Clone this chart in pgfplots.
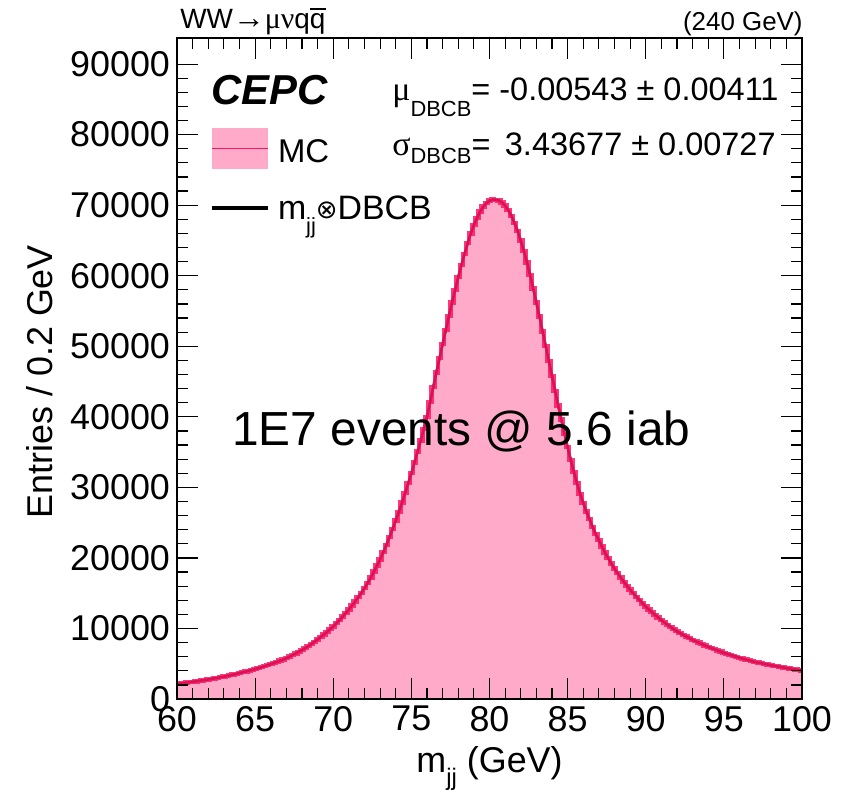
\documentclass[border=0pt]{standalone}
\usepackage{fontspec}
\setmainfont{Liberation Sans}
\newfontfamily\grk{Liberation Serif}
\newfontfamily\dv{DejaVu Sans}
\usepackage{pgfplots}
\usepackage{pgfplotstable}
\pgfplotsset{compat=1.18}
\definecolor{pinkfill}{RGB}{255,170,200}
\definecolor{mcred}{RGB}{255,20,100}
\newcommand\qbar{\setbox0\hbox{q}\rlap{\raisebox{0.66em}{\rule{\wd0}{0.07em}}}q}
\pgfplotstableread{
x y
60.0 2150
60.2 2210
60.4 2270
60.6 2330
60.8 2390
61.0 2450
61.2 2510
61.4 2575
61.6 2640
61.8 2710
62.0 2780
62.2 2855
62.4 2930
62.6 3010
62.8 3095
63.0 3180
63.2 3275
63.4 3370
63.6 3470
63.8 3575
64.0 3680
64.2 3790
64.4 3900
64.6 4010
64.8 4130
65.0 4250
65.2 4380
65.4 4510
65.6 4650
65.8 4800
66.0 4950
66.2 5110
66.4 5270
66.6 5440
66.8 5620
67.0 5800
67.2 6010
67.4 6230
67.6 6460
67.8 6700
68.0 6950
68.2 7220
68.4 7500
68.6 7800
68.8 8120
69.0 8450
69.2 8800
69.4 9160
69.6 9530
69.8 9910
70.0 10300
70.2 10740
70.4 11200
70.6 11680
70.8 12180
71.0 12700
71.2 13260
71.4 13840
71.6 14450
71.8 15070
72.0 15700
72.2 16450
72.4 17230
72.6 18060
72.8 18920
73.0 19800
73.2 20800
73.4 21850
73.6 22950
73.8 24100
74.0 25300
74.2 26550
74.4 27850
74.6 29200
74.8 30600
75.0 32000
75.2 33550
75.4 35100
75.6 36650
75.8 38300
76.0 40000
76.2 42100
76.4 44200
76.6 46300
76.8 48300
77.0 50300
77.2 52300
77.4 54300
77.6 56200
77.8 58000
78.0 59800
78.2 61500
78.4 63100
78.6 64600
78.8 66000
79.0 67200
79.2 68200
79.4 69100
79.6 69800
79.8 70300
80.0 70650
80.2 70800
80.4 70780
80.6 70680
80.8 70400
81.0 69950
81.2 69300
81.4 68500
81.6 67500
81.8 66350
82.0 65000
82.2 63500
82.4 61900
82.6 60100
82.8 58200
83.0 56200
83.2 54200
83.4 52100
83.6 50000
83.8 47900
84.0 45800
84.2 43700
84.4 41600
84.6 39600
84.8 37600
85.0 35700
85.2 33900
85.4 32200
85.6 30600
85.8 29100
86.0 27800
86.2 26600
86.4 25500
86.6 24400
86.8 23400
87.0 22500
87.2 21600
87.4 20750
87.6 19950
87.8 19200
88.0 18500
88.2 17850
88.4 17220
88.6 16620
88.8 16050
89.0 15500
89.2 14990
89.4 14500
89.6 14030
89.8 13560
90.0 13100
90.2 12700
90.4 12310
90.6 11930
90.8 11560
91.0 11200
91.2 10860
91.4 10530
91.6 10210
91.8 9900
92.0 9600
92.2 9350
92.4 9100
92.6 8860
92.8 8630
93.0 8400
93.2 8190
93.4 7990
93.6 7790
93.8 7590
94.0 7400
94.2 7230
94.4 7060
94.6 6890
94.8 6720
95.0 6550
95.2 6410
95.4 6270
95.6 6130
95.8 5990
96.0 5850
96.2 5730
96.4 5610
96.6 5490
96.8 5370
97.0 5250
97.2 5160
97.4 5070
97.6 4980
97.8 4890
98.0 4800
98.2 4720
98.4 4640
98.6 4560
98.8 4480
99.0 4400
99.2 4330
99.4 4260
99.6 4190
99.8 4120
100.0 4050
}\mcdata
\begin{document}
\begin{tikzpicture}
\begin{axis}[name=ax, scale only axis, width=312.5bp, height=330.5bp,
  xmin=60, xmax=100, ymin=0, ymax=93700,
  xtick={60,65,...,100}, ytick={0,10000,...,90000},
  minor x tick num=4, minor y tick num=4,
  tick align=inside, tick pos=both,
  major tick length=10.5bp, minor tick length=5.5bp,
  axis line style={line width=0.8pt},
  every tick/.style={black, line width=0.6pt},
  /pgf/number format/assume math mode=true,
  /pgf/number format/set thousands separator={},
  scaled y ticks=false,
  tick label style={font=\fontsize{18}{20}\selectfont},
  label style={font=\fontsize{18}{20}\selectfont},
  xlabel={m\raisebox{-0.35em}{\fontsize{12}{12}\selectfont jj} (GeV)},
  ylabel={Entries / 0.2 GeV},
  xlabel style={at={(axis description cs:0.5,-0.105)},anchor=center},
  ylabel style={at={(axis description cs:-0.22,0.48)},anchor=center},
  axis on top,
]
\addplot[fill=pinkfill, draw=none] table {\mcdata} \closedcycle;
\addplot[black, line width=1.3pt] table {\mcdata};
\addplot[mcred, line width=2.2pt, opacity=0.85, const plot mark mid] table {\mcdata};
% texts
\node[anchor=base west, font=\fontsize{21}{21}\selectfont\bfseries\itshape, inner sep=0pt] at (rel axis cs:0.054,0.900) {CEPC};
\node[anchor=base west, font=\fontsize{16.3}{18}\selectfont, inner sep=0pt] at (rel axis cs:0.344,0.906) {{\grk\fontsize{17}{17}\selectfont μ}\raisebox{-0.5em}{\fontsize{11}{11}\selectfont DBCB}= -0.00543 ± 0.00411};
\node[anchor=base west, font=\fontsize{16.3}{18}\selectfont, inner sep=0pt] at (rel axis cs:0.344,0.823) {{\grk\fontsize{17}{17}\selectfont σ}\raisebox{-0.25em}{\fontsize{11}{11}\selectfont DBCB}=\, 3.43677 ± 0.00727};
% legend
\fill[pinkfill] (rel axis cs:0.056,0.802) rectangle (rel axis cs:0.146,0.864);
\draw[mcred, line width=0.8pt] (rel axis cs:0.056,0.833) -- (rel axis cs:0.146,0.833);
\node[anchor=base west, font=\fontsize{16.5}{18}\selectfont, inner sep=0pt] at (rel axis cs:0.161,0.812) {MC};
\draw[black, line width=2pt] (rel axis cs:0.056,0.743) -- (rel axis cs:0.146,0.743);
\node[anchor=base west, font=\fontsize{17}{18}\selectfont, inner sep=0pt] at (rel axis cs:0.161,0.725) {m\raisebox{-0.4em}{\fontsize{11}{11}\selectfont jj}\raisebox{0.05em}{\dv\fontsize{13}{13}\selectfont ⊗}DBCB};
\node[anchor=base west, font=\fontsize{24}{24}\selectfont, inner sep=0pt] at (rel axis cs:0.088,0.383) {1E7 events @ 5.6 iab};
\end{axis}
\node[anchor=base west, font=\fontsize{14}{14}\selectfont, inner sep=0pt] at ([xshift=1.5bp,yshift=335.5bp]ax.south west) {WW{\grk\fontsize{16}{16}\selectfont →}{\grk\fontsize{15}{15}\selectfont μν}q\qbar};
\node[anchor=base east, font=\fontsize{13}{13}\selectfont, inner sep=0pt] at ([xshift=0.5bp,yshift=334.5bp]ax.south east) {(240 GeV)};
\pgfresetboundingbox
\path[use as bounding box] ([xshift=-88.5bp,yshift=-46.5bp]ax.south west) rectangle ([xshift=24bp,yshift=19bp]ax.north east);
\end{tikzpicture}
\end{document}
